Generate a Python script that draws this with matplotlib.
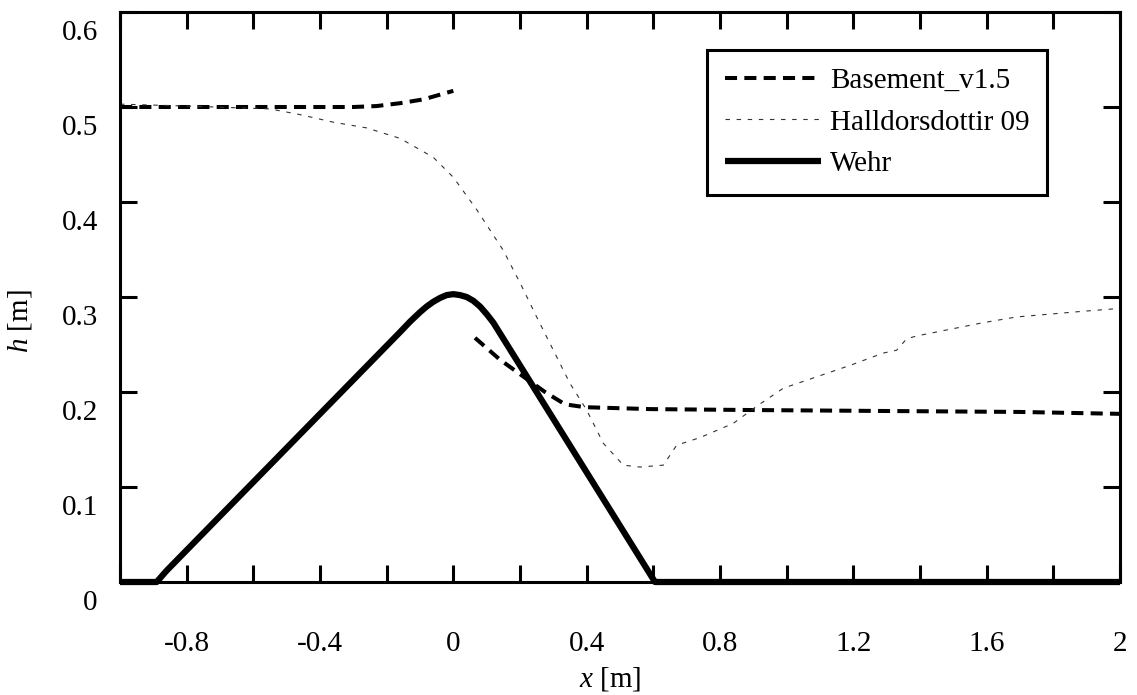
import matplotlib
matplotlib.use('Agg')
import matplotlib.pyplot as plt
from matplotlib.transforms import ScaledTranslation
import numpy as np

plt.rcParams['font.family'] = ['Liberation Serif', 'DejaVu Serif']
plt.rcParams['mathtext.fontset'] = 'custom'
plt.rcParams['mathtext.rm'] = 'Liberation Serif'
plt.rcParams['mathtext.it'] = 'Liberation Serif:italic'

# Basement_v1.5 (two pieces: upstream and downstream of the crest)
base_x1 = [-1.0, -0.8, -0.6, -0.4, -0.3, -0.23, -0.16, -0.09, -0.02, 0.0]
base_h1 = [0.500, 0.500, 0.500, 0.500, 0.500, 0.501, 0.504, 0.508, 0.515, 0.517]
base_x2 = [0.065, 0.14, 0.215, 0.275, 0.335, 0.395, 0.59, 0.9, 1.3, 1.7, 2.0]
base_h2 = [0.257, 0.234, 0.215, 0.200, 0.187, 0.184, 0.182, 0.181, 0.180, 0.179, 0.177]

# Halldorsdottir 09
hall_x = [-1.0, -0.8, -0.55, -0.46, -0.36, -0.26, -0.16, -0.06, 0.0, 0.07, 0.15,
          0.2, 0.25, 0.3, 0.35, 0.4, 0.45, 0.51, 0.56, 0.63, 0.67, 0.74, 0.84,
          0.91, 0.99, 1.09, 1.19, 1.29, 1.33, 1.36, 1.39, 1.49, 1.59, 1.69,
          1.79, 1.89, 2.0]
hall_h = [0.503, 0.501, 0.498, 0.492, 0.484, 0.478, 0.467, 0.447, 0.426, 0.392, 0.349,
          0.315, 0.279, 0.244, 0.209, 0.181, 0.146, 0.123, 0.121, 0.123, 0.144, 0.152, 0.167,
          0.185, 0.204, 0.216, 0.228, 0.241, 0.244, 0.256, 0.259, 0.266, 0.273, 0.279,
          0.282, 0.285, 0.288]

# Wehr (weir geometry, rounded crest)
wehr_x = [-1.0, -0.89, -0.875, -0.86, -0.16, -0.13, -0.10, -0.08, -0.06, -0.04, -0.02,
          0.0, 0.02, 0.04, 0.06, 0.08, 0.10, 0.12, 0.605, 2.0]
wehr_h = [0.0, 0.0, 0.006, 0.012, 0.263, 0.274, 0.284, 0.290, 0.295, 0.299, 0.302,
          0.303, 0.302, 0.300, 0.296, 0.290, 0.282, 0.273, 0.0, 0.0]

fig = plt.figure(figsize=(11.37, 6.95), dpi=100)
ax = fig.add_axes([120/1137, 113/695, 1000/1137, 570/695])

ax.plot(base_x1, base_h1, color='black', lw=2.9, linestyle=(0, (3, 1.8)),
        label='Basement_v1.5')
ax.plot(base_x2, base_h2, color='black', lw=2.9, linestyle=(0, (3, 1.8)))
ax.plot(hall_x, hall_h, color='#333333', lw=0.8, linestyle=(0, (4, 6)),
        label='Halldorsdottir 09')
ax.plot(wehr_x, wehr_h, color='black', lw=4.5, solid_capstyle='butt',
        solid_joinstyle='round', label='Wehr', clip_on=False)

ax.set_xlim(-1, 2)
ax.set_ylim(0, 0.6)
ax.set_xticks([-0.8, -0.4, 0, 0.4, 0.8, 1.2, 1.6, 2])
ax.set_xticklabels(['-0.8', '-0.4', '0', '0.4', '0.8', '1.2', '1.6', '2'])
ax.set_xticks([-1, -0.6, -0.2, 0.2, 0.6, 1.0, 1.4, 1.8], minor=True)
ax.set_yticks([0, 0.1, 0.2, 0.3, 0.4, 0.5, 0.6])
ax.set_yticklabels(['0', '0.1', '0.2', '0.3', '0.4', '0.5', '0.6'])

for sp in ax.spines.values():
    sp.set_linewidth(2.2)
ax.tick_params(which='both', direction='in', top=True, right=True,
               length=12, width=2.2, labelsize=21)
ax.tick_params(axis='x', which='both', pad=35)
ax.tick_params(axis='y', which='both', pad=16)
# y tick labels sit a little below their ticks, as in the original
shift = ScaledTranslation(0, -0.08, fig.dpi_scale_trans)
for lbl in ax.get_yticklabels():
    lbl.set_va('top')
    lbl.set_transform(lbl.get_transform() + shift)

ax.set_xlabel('$x$ [m]', fontsize=21)
ax.xaxis.set_label_coords(0.49, -0.145)
ax.set_ylabel('$h$ [m]', fontsize=21)
ax.yaxis.set_label_coords(-0.086, 0.458)

leg = ax.legend(loc='upper right', bbox_to_anchor=(0.927, 0.933), fontsize=21,
                handlelength=3.3, handletextpad=0.3, labelspacing=0.52,
                borderpad=0.6, borderaxespad=0, fancybox=False, framealpha=1)
leg.get_frame().set_edgecolor('black')
leg.get_frame().set_linewidth(2.2)

plt.savefig('out.png', dpi=100)
